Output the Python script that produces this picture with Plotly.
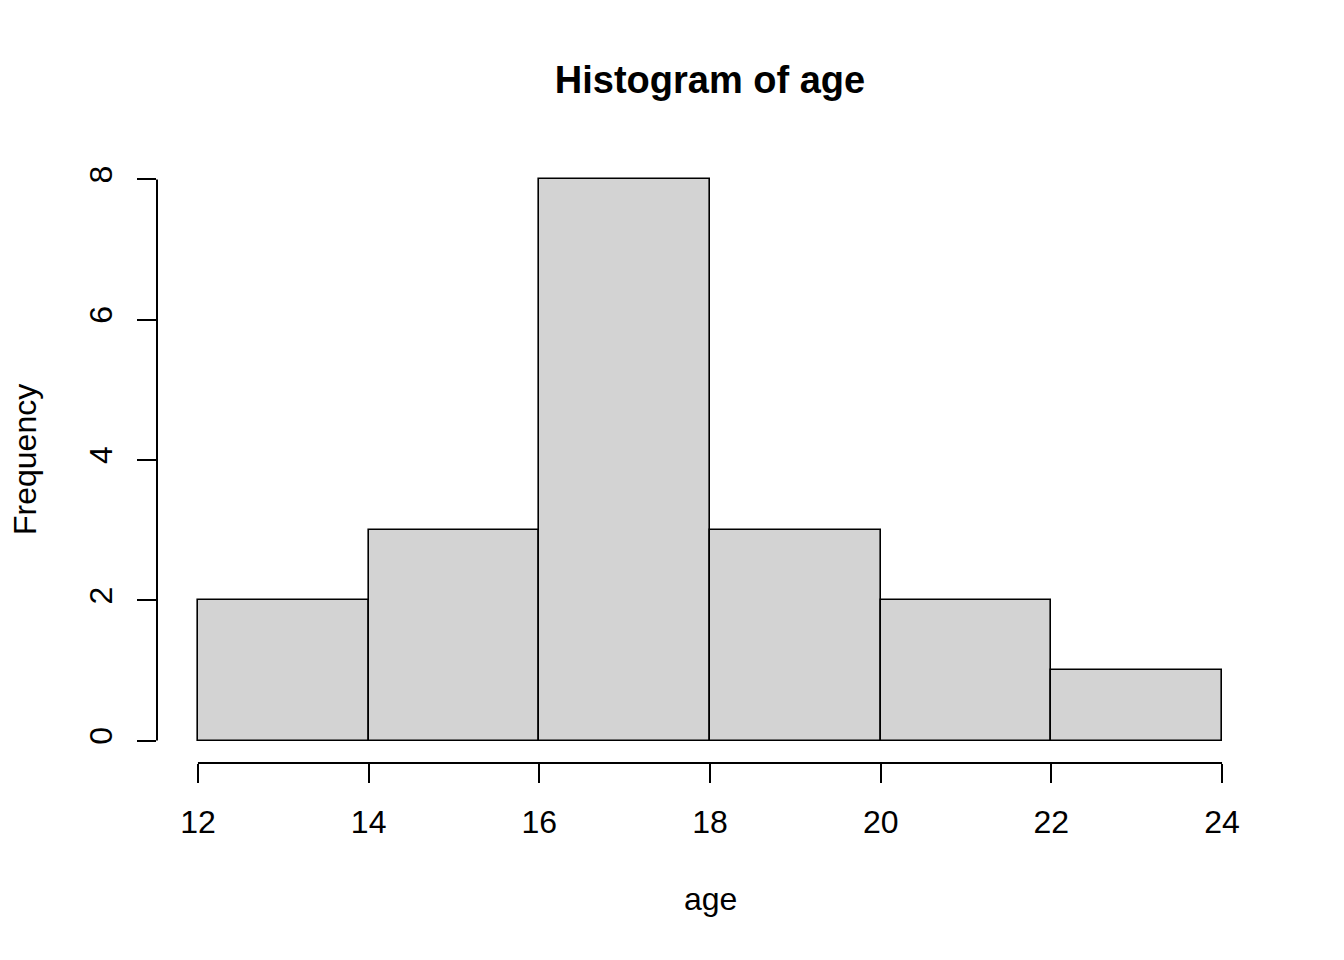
import plotly.graph_objects as go

# Dados do histograma (classes de 2 anos)
bin_edges = [12, 14, 16, 18, 20, 22, 24]
counts = [2, 3, 8, 3, 2, 1]
y_ticks = [0, 2, 4, 6, 8]

centers = [(a + b) / 2 for a, b in zip(bin_edges[:-1], bin_edges[1:])]
widths = [b - a for a, b in zip(bin_edges[:-1], bin_edges[1:])]

# faixa estilo R (4% de folga de cada lado)
def r_range(lo, hi):
    pad = (hi - lo) * 0.04
    return [lo - pad, hi + pad]

xr = r_range(bin_edges[0], bin_edges[-1])
yr = r_range(y_ticks[0], y_ticks[-1])

font = "Liberation Sans, Arial, sans-serif"

fig = go.Figure()

fig.add_trace(go.Bar(
    x=centers,
    y=counts,
    width=widths,
    marker=dict(color='#D3D3D3', line=dict(color='black', width=1.6)),
    hoverinfo='x+y'
))

axis_common = dict(
    showgrid=False,
    zeroline=False,
    showline=False,
    ticks='outside',
    ticklen=19,
    tickwidth=2,
    tickcolor='black',
    tickfont=dict(family=font, size=32, color='black'),
)

fig.update_layout(
    width=1344,
    height=960,
    paper_bgcolor='white',
    plot_bgcolor='white',
    margin=dict(l=149, r=89, t=148.5, b=204.5),
    showlegend=False,
    bargap=0,
    title=dict(
        text='<b>Histogram of age</b>',
        x=(149 + 149 + 1106) / 2 / 1344, xanchor='center',
        y=1 - 72 / 960, yanchor='middle',
        font=dict(family=font, size=38, color='black')
    ),
    xaxis=dict(range=xr, tickvals=bin_edges, ticklabelstandoff=12, **axis_common),
    yaxis=dict(range=yr, tickvals=y_ticks, tickangle=-90, ticklabelstandoff=12, **axis_common),
    shapes=[
        # eixo x destacado (R style)
        dict(type='line', xref='x', yref='paper', x0=bin_edges[0], x1=bin_edges[-1],
             y0=0, y1=0, line=dict(color='black', width=2)),
        # eixo y destacado
        dict(type='line', xref='paper', yref='y', x0=0, x1=0,
             y0=y_ticks[0], y1=y_ticks[-1], line=dict(color='black', width=2)),
    ],
    annotations=[
        dict(text='age', xref='paper', yref='paper', x=0.5, y=(763.5 - 900) / 607,
             xanchor='center', yanchor='middle', showarrow=False,
             font=dict(family=font, size=32, color='black')),
        dict(text='Frequency', xref='paper', yref='paper', x=(25 - 157) / 1106, y=0.5,
             xanchor='center', yanchor='middle', textangle=-90, showarrow=False,
             font=dict(family=font, size=32, color='black')),
    ],
)

fig.write_html("out.html")
